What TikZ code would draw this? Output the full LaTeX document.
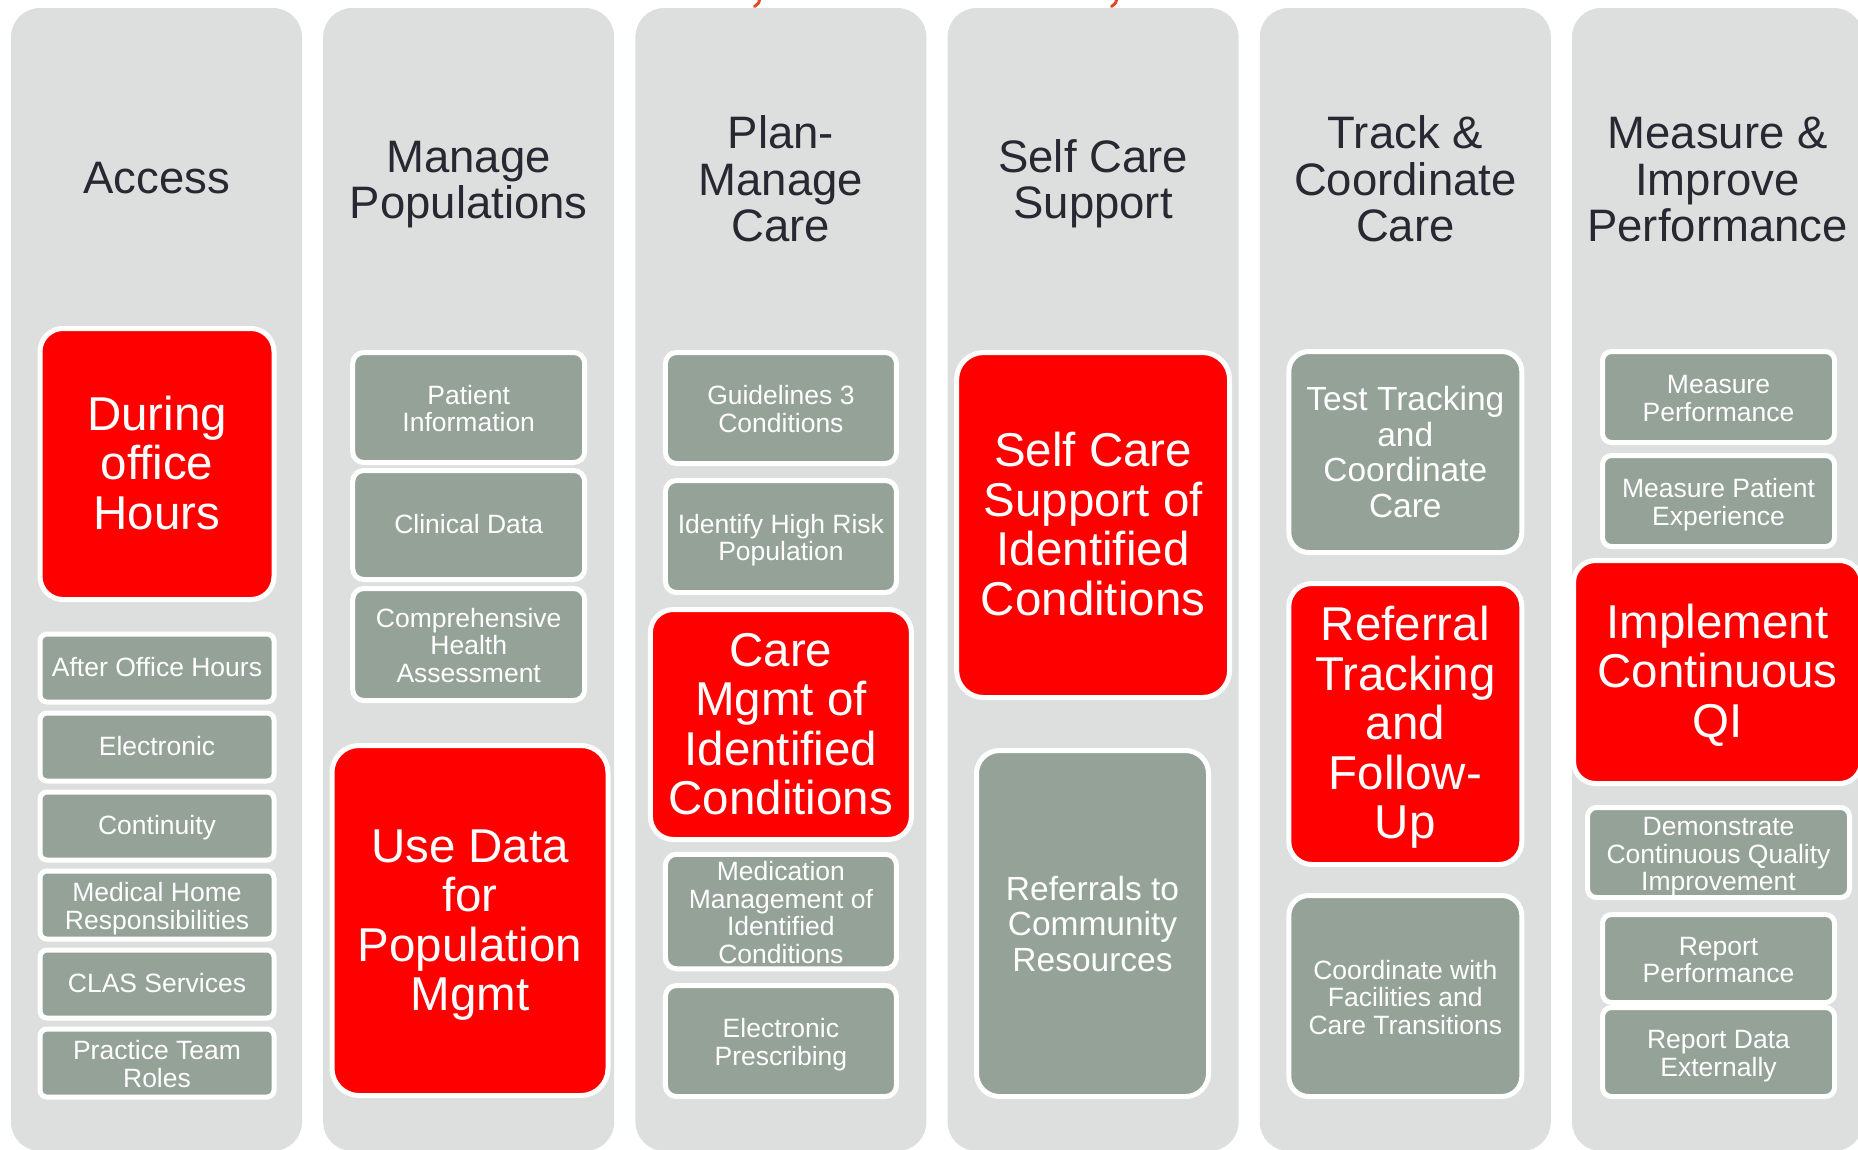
\documentclass[tikz,border=0pt]{standalone}
\usepackage{fontspec}
\setmainfont{Liberation Sans}
\definecolor{colgray}{RGB}{220,223,222}
\definecolor{boxgray}{RGB}{148,162,152}
\definecolor{boxred}{RGB}{255,0,0}
\definecolor{titlecol}{RGB}{40,40,50}
\definecolor{markred}{RGB}{226,72,42}
\newcommand\tstrut{\rule[-0.2\baselineskip]{0pt}{\baselineskip}}
% raises the top of the first line of a multi-line label
\newcommand\tg{\rule{0pt}{\dimexpr0.716em+7.5pt\relax}}
\tikzset{
  colbox/.style={fill=colgray, rounded corners=29pt, minimum width=291pt, minimum height=1143pt, inner sep=0pt},
  coltitle/.style={text=titlecol, font=\fontsize{45.5}{46.5}\selectfont, align=center, inner sep=0pt,
    execute at begin node=\tstrut, execute at end node=\tstrut},
  basebox/.style={draw=white, line width=5pt, text=white, align=center, inner sep=0pt,
    execute at begin node=\tstrut, execute at end node=\tstrut},
  redbox/.style={basebox, fill=boxred, font=\fontsize{47.5}{49.5}\selectfont},
  graybox/.style={basebox, fill=boxgray, font=\fontsize{26.5}{27.5}\selectfont},
  graybig/.style={basebox, fill=boxgray, font=\fontsize{33.5}{35.5}\selectfont},
  redtick/.style={draw=markred, line width=3pt, line cap=round},
}
\begin{document}
\begin{tikzpicture}[x=1pt,y=-1pt]
\useasboundingbox (0,0) rectangle (1858,1149);
\fill[white] (0,0) rectangle (1858,1149);
\begin{scope}
\clip (0,0) rectangle (1858,1149);
% columns
\node[colbox] (col1) at (156.5,579.5) {};
\node[colbox] (col2) at (468.7,579.5) {};
\node[colbox] (col3) at (780.9,579.5) {};
\node[colbox] (col4) at (1093.1,579.5) {};
\node[colbox] (col5) at (1405.3,579.5) {};
\node[colbox] (col6) at (1717.5,579.5) {};
% small red marks at the top edge
\draw[redtick] (759.5,-1) .. controls (759,3) .. (754.5,6.5);
\draw[redtick] (1116.5,-1) .. controls (1116,3) .. (1111.5,6.5);
% titles
\node[coltitle] (t1) at (156.5,180) {Access};
\node[coltitle] (t2) at (468.7,180) {\tg Manage\\Populations};
\node[coltitle] (t3) at (780.9,180) {\tg Plan-\\Manage\\Care};
\node[coltitle] (t4) at (1093.1,180) {\tg Self Care\\Support};
\node[coltitle] (t5) at (1405.3,180) {\tg Track \&\\Coordinate\\Care};
\node[coltitle] (t6) at (1717.5,180) {\tg Measure \&\\Improve\\Performance};
% column 1
\node[redbox, minimum width=234pt, minimum height=271pt, rounded corners=23pt] (a0) at (157,464) {\tg During\\office\\Hours};
\node[graybox, minimum width=234pt, minimum height=68pt, rounded corners=7pt] (a1) at (157,668) {After Office Hours};
\node[graybox, minimum width=234pt, minimum height=68pt, rounded corners=7pt] (a2) at (157,747) {Electronic};
\node[graybox, minimum width=234pt, minimum height=68pt, rounded corners=7pt] (a3) at (157,826) {Continuity};
\node[graybox, minimum width=234pt, minimum height=68pt, rounded corners=7pt] (a4) at (157,905) {\tg Medical Home\\Responsibilities};
\node[graybox, minimum width=234pt, minimum height=68pt, rounded corners=7pt] (a5) at (157,984) {CLAS Services};
\node[graybox, minimum width=234pt, minimum height=68pt, rounded corners=7pt] (a6) at (157,1063) {\tg Practice Team\\Roles};
% column 2
\node[graybox, minimum width=232pt, minimum height=110pt, rounded corners=11pt] (b1) at (468.7,407.5) {\tg Patient\\Information};
\node[graybox, minimum width=232pt, minimum height=109pt, rounded corners=11pt] (b2) at (468.7,525) {Clinical Data};
\node[graybox, minimum width=232pt, minimum height=112pt, rounded corners=11pt] (b3) at (468.7,644.5) {\tg Comprehensive\\Health\\Assessment};
\node[redbox, minimum width=276pt, minimum height=350pt, rounded corners=27pt] (b4) at (470,920.5) {\tg Use Data\\for\\Population\\Mgmt};
% column 3
\node[graybox, minimum width=231pt, minimum height=111pt, rounded corners=11pt] (c1) at (780.9,408) {\tg Guidelines 3\\Conditions};
\node[graybox, minimum width=231pt, minimum height=112pt, rounded corners=11pt] (c2) at (780.9,536.5) {\tg Identify High Risk\\Population};
\node[redbox, minimum width=261pt, minimum height=230pt, rounded corners=23pt] (c3) at (780.9,724.5) {\tg Care\\Mgmt of\\Identified\\Conditions};
\node[graybox, minimum width=231pt, minimum height=112pt, rounded corners=11pt] (c4) at (780.9,911.5) {\tg Medication\\Management of\\Identified\\Conditions};
\node[graybox, minimum width=231pt, minimum height=111pt, rounded corners=11pt] (c5) at (780.9,1041) {\tg Electronic\\Prescribing};
% column 4
\node[redbox, minimum width=273pt, minimum height=345pt, rounded corners=27pt] (d1) at (1093.1,525) {\tg Self Care\\Support of\\Identified\\Conditions};
\node[graybig, minimum width=232pt, minimum height=346pt, rounded corners=23pt] (d2) at (1092.5,923.5) {\tg Referrals to\\Community\\Resources};
% column 5
\node[graybig, minimum width=233pt, minimum height=201pt, rounded corners=20pt] (e1) at (1405.3,452) {\tg Test Tracking\\and\\Coordinate\\Care};
\node[redbox, minimum width=233pt, minimum height=281pt, rounded corners=23pt] (e2) at (1405.3,724) {\tg Referral\\Tracking\\and\\Follow-\\Up};
\node[graybox, minimum width=233pt, minimum height=201pt, rounded corners=20pt] (e3) at (1405.3,996) {\tg Coordinate with\\Facilities and\\Care Transitions};
% column 6
\node[graybox, minimum width=232pt, minimum height=91pt, rounded corners=9pt] (f1) at (1718.5,397) {\tg Measure\\Performance};
\node[graybox, minimum width=232pt, minimum height=91pt, rounded corners=9pt] (f2) at (1718.5,501) {\tg Measure Patient\\Experience};
\node[redbox, minimum width=288pt, minimum height=223pt, rounded corners=22pt] (f3) at (1717.5,672) {\tg Implement\\Continuous\\QI};
\node[graybox, minimum width=262pt, minimum height=90pt, rounded corners=9pt] (f4) at (1718.5,852.5) {\tg Demonstrate\\Continuous Quality\\Improvement};
\node[graybox, minimum width=232pt, minimum height=88pt, rounded corners=9pt] (f5) at (1718.5,958.5) {\tg Report\\Performance};
\node[graybox, minimum width=232pt, minimum height=89pt, rounded corners=9pt] (f6) at (1718.5,1052) {\tg Report Data\\Externally};
\end{scope}
\end{tikzpicture}
\end{document}
